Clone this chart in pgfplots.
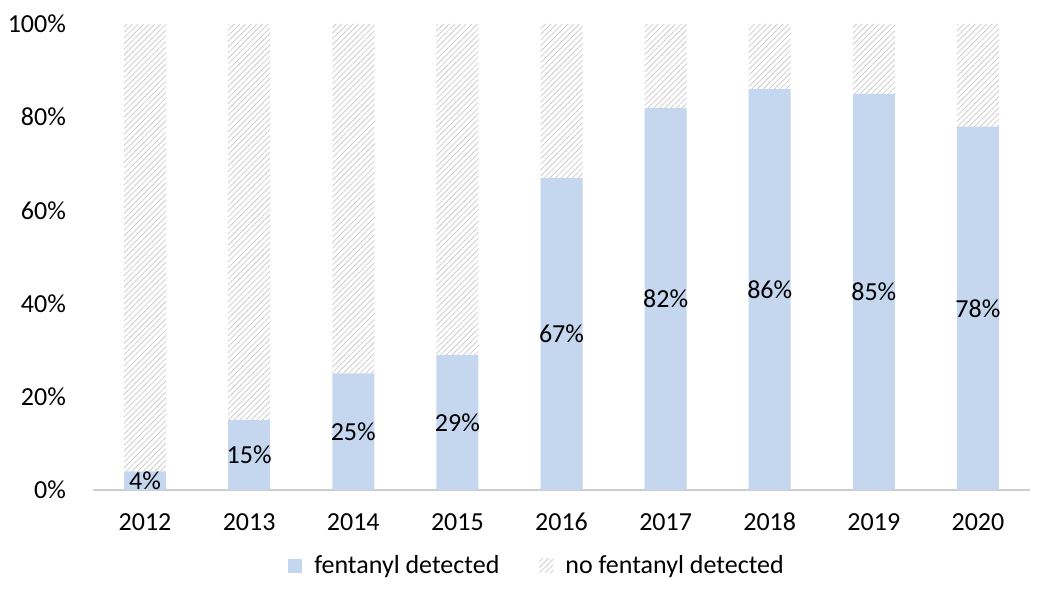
\documentclass[border=0pt]{standalone}
\usepackage{pgfplots}
\pgfplotsset{compat=1.18}
\usepackage{fontspec}
\setmainfont{Carlito}
\usetikzlibrary{patterns.meta}
\definecolor{fblue}{RGB}{197,215,239}
\definecolor{hatch}{RGB}{205,205,205}
\definecolor{axgray}{RGB}{205,205,205}
\begin{document}
\fontsize{13}{15}\selectfont
\begin{tikzpicture}
\path[use as bounding box] (-46.5pt,-51pt) rectangle (472pt,245pt);
\pgfplotsset{myaxis/.style={
  scale only axis,
  width=468.5pt, height=233pt,
  xmin=-0.5, xmax=8.5, ymin=0, ymax=100,
}}
\begin{axis}[
  myaxis,
  ybar stacked, bar width=21pt,
  xtick={0,...,8},
  xticklabels={2012,2013,2014,2015,2016,2017,2018,2019,2020},
  typeset ticklabels with strut,
  extra x ticks={-0.5,0.5,...,8.5},
  extra x tick labels={},
  extra x tick style={major tick length=4pt, tick style={draw=axgray, line width=0.8pt}, tick pos=lower, xtick align=outside},
  x tick style={draw=none},
  ytick={0,20,...,100},
  y tick style={draw=none},
  yticklabel={\pgfmathprintnumber{\tick}\%},
  /pgf/number format/assume math mode=true,
  yticklabel style={xshift=-9pt},
  xticklabel style={yshift=-5pt},
  axis x line*=bottom,
  axis y line*=left,
  y axis line style={draw=none},
  x axis line style={draw=axgray, line width=0.8pt, -},
  legend style={draw=none, at={(0.475,-0.163)}, anchor=center, legend columns=2, column sep=4pt,
    /tikz/every even column/.append style={column sep=18pt},
    font=\fontsize{13}{15}\selectfont},
  clip=false,
]
\addplot[fill=fblue, draw=none,
  legend image code/.code={\fill[fblue] (0pt,-3.5pt) rectangle (7pt,3.5pt);}]
 coordinates {(0,4) (1,15) (2,25) (3,29) (4,67) (5,82) (6,86) (7,85) (8,78)};
\addlegendentry{fentanyl detected}
\addplot[draw=none, pattern={Lines[angle=45,distance=2pt,line width=0.4pt]}, pattern color=hatch,
  legend image code/.code={\fill[pattern={Lines[angle=45,distance=2pt,line width=0.4pt]}, pattern color=hatch] (0pt,-3.5pt) rectangle (7pt,3.5pt);}]
 coordinates {(0,96) (1,85) (2,75) (3,71) (4,33) (5,18) (6,14) (7,15) (8,22)};
\addlegendentry{no fentanyl detected}
\end{axis}
\begin{axis}[myaxis, hide axis, clip=false]
\addplot[only marks, mark=none, point meta=explicit symbolic,
  nodes near coords, nodes near coords style={anchor=center, font=\fontsize{13}{15}\selectfont, text=black}]
 coordinates {(0,2)[4\%] (1,7.5)[15\%] (2,12.5)[25\%] (3,14.5)[29\%] (4,33.5)[67\%] (5,41)[82\%] (6,43)[86\%] (7,42.5)[85\%] (8,39)[78\%]};
\end{axis}
\end{tikzpicture}
\end{document}
